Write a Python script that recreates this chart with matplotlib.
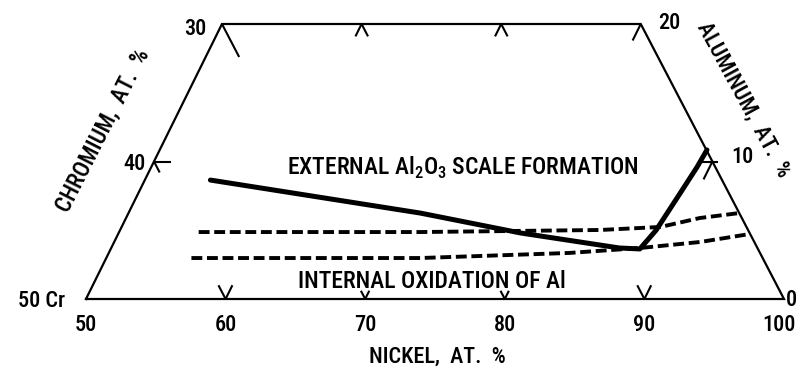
import matplotlib
matplotlib.use("Agg")
import matplotlib.pyplot as plt
from matplotlib import font_manager

# ---- composition data (at.% Ni, at.% Al) ----
# solid boundary: external Al2O3 scale vs internal oxidation
solid_ni = [54.7, 70.9, 78.8, 86.4, 87.9, 88.4, 88.8, 89.1, 89.2]
solid_al = [8.65, 6.25, 4.80, 3.71, 3.64, 5.00, 7.60, 9.60, 10.84]

# dashed boundaries
upper_ni = [55.7, 71.6, 84.4, 88.6, 91.1, 93.75]
upper_al = [4.87, 4.87, 5.02, 5.24, 5.89, 6.25]
lower_ni = [56.1, 72.5, 83.0, 87.9, 92.0, 95.27]
lower_al = [2.98, 2.98, 3.35, 3.71, 4.15, 4.73]

# axis tick labels
ni_ticks = [50, 60, 70, 80, 90, 100]
cr_ticks = [30, 40]
al_ticks = [20, 10, 0]

# ---- fonts ----
_fonts = font_manager.fontManager.ttflist
_names = {f.name for f in _fonts}
FONT = "DejaVu Sans"
for cand in ["Roboto Condensed", "Liberation Sans Narrow", "Open Sans Condensed",
             "DejaVu Sans Condensed"]:
    if cand in _names:
        FONT = cand
        break
_weights = {f.weight for f in _fonts if f.name == FONT}
WEIGHT = 500 if 500 in _weights else "bold"
plt.rcParams["font.family"] = [FONT, "DejaVu Sans"]
plt.rcParams["font.weight"] = WEIGHT
plt.rcParams["mathtext.fontset"] = "custom"
plt.rcParams["mathtext.rm"] = FONT + (":medium" if WEIGHT == 500 else ":bold")

# ---- ternary projection (slightly sheared, unequal aspect) ----
K = 0.487


def proj(ni, al):
    if hasattr(ni, "__len__"):
        return [n + K * a for n, a in zip(ni, al)], list(al)
    return ni + K * al, al


fig = plt.figure(figsize=(7.97, 3.70), dpi=100)
ax = fig.add_axes([0, 0, 1, 1])
x0 = 50 - 86 / 13.96
y0 = -71 / 13.75
ax.set_xlim(x0, x0 + 797 / 13.96)
ax.set_ylim(y0, y0 + 370 / 13.75)
ax.axis("off")

BLK = "black"

# frame of the Ni-rich corner
frame_ni = [50, 50, 80, 100, 50]
frame_al = [0, 20, 20, 0, 0]
fx, fy = proj(frame_ni, frame_al)
ax.plot(fx, fy, color=BLK, lw=1.6, solid_joinstyle="miter")


def seg(p, q, lw=1.5):
    (x1, y1), (x2, y2) = proj(*p), proj(*q)
    ax.plot([x1, x2], [y1, y2], color=BLK, lw=lw, solid_capstyle="butt")


# bottom edge ticks (Al = 0): V marks
for ni, L in [(60, 1.0), (70, 0.6), (80, 0.6), (90, 1.0)]:
    seg((ni, 0), (ni, L))            # constant Ni
    seg((ni, 0), (ni - L, L))        # constant Cr
# top edge ticks (Al = 20): inverted V marks
for ni, L in [(60, 0.9), (70, 0.9)]:
    seg((ni, 20), (ni, 20 - L))
    seg((ni, 20), (ni + L, 20 - L))
# corner ticks
seg((50, 20), (52.4, 17.6))          # Cr = 30
seg((80, 20), (80, 18.8))            # Ni = 80
# left edge tick at Cr = 40 (Al = 10)
seg((50, 10), (51.2, 10))
seg((50, 10), (50.8, 9.2))
# right edge tick at Al = 10 (Ni = 90)
seg((89.0, 10), (90.4, 10))
seg((90, 10), (90, 8.7))

# boundaries
sx, sy = proj(solid_ni, solid_al)
ax.plot(sx, sy, color=BLK, lw=3.6, solid_capstyle="round", solid_joinstyle="round")
for ni, al in [(upper_ni, upper_al), (lower_ni, lower_al)]:
    dx, dy = proj(ni, al)
    ax.plot(dx, dy, color=BLK, lw=2.8, linestyle=(0, (2.8, 1.2)), dash_capstyle="butt")


# ---- text (pixel positions converted to figure fraction) ----
def ftext(px, py, s, **kw):
    fig.text(px / 797, 1 - py / 370, s, **kw)


num = dict(fontsize=16, color=BLK)
for ni, lab in zip(ni_ticks[:-1], ni_ticks[:-1]):
    x, _ = proj(ni, 0)
    px = (x - x0) * 13.96
    ftext(px, 325, str(lab), ha="center", va="center", **num)
ftext(796, 325, str(ni_ticks[-1]), ha="right", va="center", **num)
ftext(195, 29, str(cr_ticks[0]), ha="center", va="center", **num)
ftext(134, 164, str(cr_ticks[1]), ha="center", va="center", **num)
ftext(42, 301, "50 Cr", ha="center", va="center", **num)
ftext(669, 23, str(al_ticks[0]), ha="center", va="center", **num)
ftext(742, 157, str(al_ticks[1]), ha="center", va="center", **num)
ftext(786, 300, str(al_ticks[2]), ha="left", va="center", **num)

ftext(437, 357, "NICKEL,  AT.  %", ha="center", va="center", fontsize=16, color=BLK)
ftext(103, 130, "CHROMIUM,  AT.  %", ha="center", va="center", fontsize=16.5,
      rotation=63, rotation_mode="anchor", color=BLK)
ftext(743, 100, "ALUMINUM,  AT.  %", ha="center", va="center", fontsize=16,
      rotation=-61.5, rotation_mode="anchor", color=BLK)

ftext(287, 175, r"EXTERNAL Al$_\mathregular{2}$O$_\mathregular{3}$ SCALE FORMATION",
      ha="left", va="baseline", fontsize=17, color=BLK)
ftext(298, 288, "INTERNAL OXIDATION OF Al", ha="left", va="baseline",
      fontsize=17, color=BLK)

fig.savefig("out.png", dpi=100, facecolor="white")
